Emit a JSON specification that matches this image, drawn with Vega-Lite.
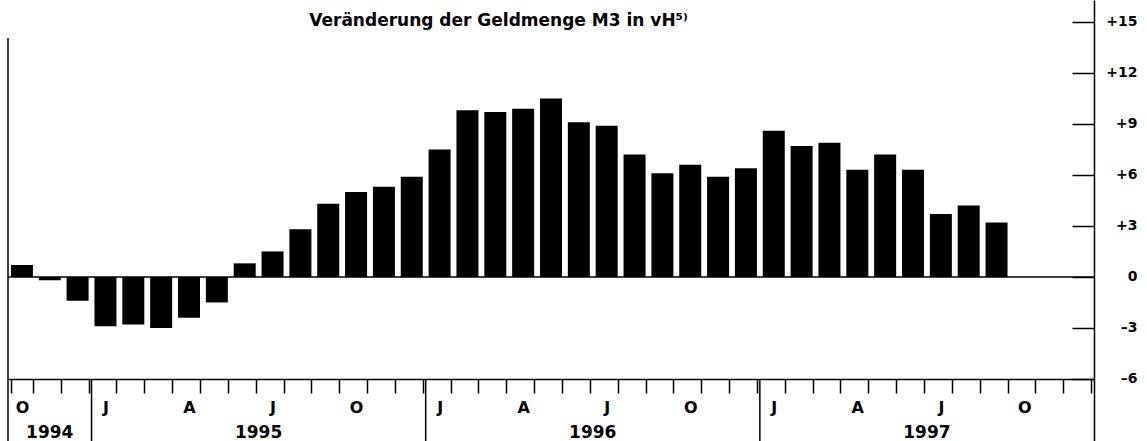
{
  "$schema": "https://vega.github.io/schema/vega-lite/v6.json",
  "width": 1086,
  "height": 441,
  "autosize": {"type": "none"},
  "padding": {"left": 8, "right": 53, "top": 0, "bottom": 0},
  "background": "white",
  "config": {"view": {"stroke": null}, "font": "DejaVu Sans"},
  "title": {"text": "Veränderung der Geldmenge M3 in vH⁵⁾", "anchor": "start", "dx": 302, "offset": -30, "fontSize": 17, "fontWeight": "bold", "font": "DejaVu Sans", "color": "black"},
  "datasets": {
    "bars": [
      {"m": "1994-10", "v": 0.7}, {"m": "1994-11", "v": -0.2}, {"m": "1994-12", "v": -1.4},
      {"m": "1995-01", "v": -2.9}, {"m": "1995-02", "v": -2.8}, {"m": "1995-03", "v": -3.0},
      {"m": "1995-04", "v": -2.4}, {"m": "1995-05", "v": -1.5}, {"m": "1995-06", "v": 0.8},
      {"m": "1995-07", "v": 1.5}, {"m": "1995-08", "v": 2.8}, {"m": "1995-09", "v": 4.3},
      {"m": "1995-10", "v": 5.0}, {"m": "1995-11", "v": 5.3}, {"m": "1995-12", "v": 5.9},
      {"m": "1996-01", "v": 7.5}, {"m": "1996-02", "v": 9.8}, {"m": "1996-03", "v": 9.7},
      {"m": "1996-04", "v": 9.9}, {"m": "1996-05", "v": 10.5}, {"m": "1996-06", "v": 9.1},
      {"m": "1996-07", "v": 8.9}, {"m": "1996-08", "v": 7.2}, {"m": "1996-09", "v": 6.1},
      {"m": "1996-10", "v": 6.6}, {"m": "1996-11", "v": 5.9}, {"m": "1996-12", "v": 6.4},
      {"m": "1997-01", "v": 8.6}, {"m": "1997-02", "v": 7.7}, {"m": "1997-03", "v": 7.9},
      {"m": "1997-04", "v": 6.3}, {"m": "1997-05", "v": 7.2}, {"m": "1997-06", "v": 6.3},
      {"m": "1997-07", "v": 3.7}, {"m": "1997-08", "v": 4.2}, {"m": "1997-09", "v": 3.2}
    ],
    "years": [
      {"year": "1994", "m": "1994-11"},
      {"year": "1995", "m": "1995-07"},
      {"year": "1996", "m": "1996-07"},
      {"year": "1997", "m": "1997-07"}
    ],
    "seps": [{"m": "1995-01"}, {"m": "1996-01"}, {"m": "1997-01"}],
    "left": [{"m": "1994-10"}]
  },
  "layer": [
    {
      "data": {"name": "bars"},
      "mark": {"type": "bar", "color": "black"},
      "encoding": {
        "x": {
          "field": "m", "type": "ordinal",
          "scale": {
            "domain": ["1994-10","1994-11","1994-12","1995-01","1995-02","1995-03","1995-04","1995-05","1995-06","1995-07","1995-08","1995-09","1995-10","1995-11","1995-12","1996-01","1996-02","1996-03","1996-04","1996-05","1996-06","1996-07","1996-08","1996-09","1996-10","1996-11","1996-12","1997-01","1997-02","1997-03","1997-04","1997-05","1997-06","1997-07","1997-08","1997-09","1997-10","1997-11","1997-12"],
            "paddingInner": 0.21, "paddingOuter": 0.105
          },
          "axis": {
            "title": null, "orient": "bottom", "offset": -62,
            "domainColor": "black", "domainWidth": 1.5,
            "tickBand": "extent", "tickSize": 14, "tickColor": "black", "tickWidth": 1.5,
            "labelAngle": 0, "labelOverlap": false, "labelPadding": 6,
            "labelExpr": "substring(datum.value,5)=='01'?'J':substring(datum.value,5)=='04'?'A':substring(datum.value,5)=='07'?'J':substring(datum.value,5)=='10'?'O':''",
            "labelFont": "DejaVu Sans", "labelFontSize": 16, "labelFontWeight": "bold", "labelColor": "black"
          }
        },
        "y": {
          "field": "v", "type": "quantitative",
          "scale": {"domain": [-9.65, 16.29], "nice": false},
          "axis": {
            "title": null, "orient": "right", "grid": false,
            "values": [-6, -3, 0, 3, 6, 9, 12, 15],
            "tickSize": -22, "tickWidth": 1.5, "tickColor": "black",
            "domainColor": "black", "domainWidth": 1.5,
            "labelAlign": "right", "labelPadding": 65,
            "labelExpr": "datum.value>0?'+'+datum.value:datum.value<0?'–'+abs(datum.value):'0'",
            "labelFont": "DejaVu Sans", "labelFontSize": 14, "labelFontWeight": "bold", "labelColor": "black"
          }
        },
        "y2": {"datum": 0}
      }
    },
    {
      "data": {"values": [{}]},
      "mark": {"type": "rule", "color": "black", "strokeWidth": 1.5},
      "encoding": {"y": {"datum": 0}}
    },
    {
      "data": {"name": "left"},
      "mark": {"type": "rule", "color": "black", "strokeWidth": 1.5},
      "encoding": {
        "x": {"field": "m", "type": "ordinal", "bandPosition": -0.133},
        "y": {"datum": 14.05},
        "y2": {"datum": -9.65}
      }
    },
    {
      "data": {"name": "seps"},
      "mark": {"type": "rule", "color": "black", "strokeWidth": 1.5},
      "encoding": {
        "x": {"field": "m", "type": "ordinal", "bandPosition": -0.133},
        "y": {"datum": -6},
        "y2": {"datum": -9.65}
      }
    },
    {
      "data": {"name": "years"},
      "transform": [{"filter": "datum.year == '1994'"}],
      "mark": {"type": "text", "color": "black", "font": "DejaVu Sans", "fontSize": 17, "fontWeight": "bold", "baseline": "middle", "align": "center"},
      "encoding": {
        "x": {"field": "m", "type": "ordinal", "bandPosition": 0.5},
        "y": {"datum": -9.18},
        "text": {"field": "year"}
      }
    },
    {
      "data": {"name": "years"},
      "transform": [{"filter": "datum.year != '1994'"}],
      "mark": {"type": "text", "color": "black", "font": "DejaVu Sans", "fontSize": 17, "fontWeight": "bold", "baseline": "middle", "align": "center"},
      "encoding": {
        "x": {"field": "m", "type": "ordinal", "bandPosition": -0.133},
        "y": {"datum": -9.18},
        "text": {"field": "year"}
      }
    }
  ]
}
